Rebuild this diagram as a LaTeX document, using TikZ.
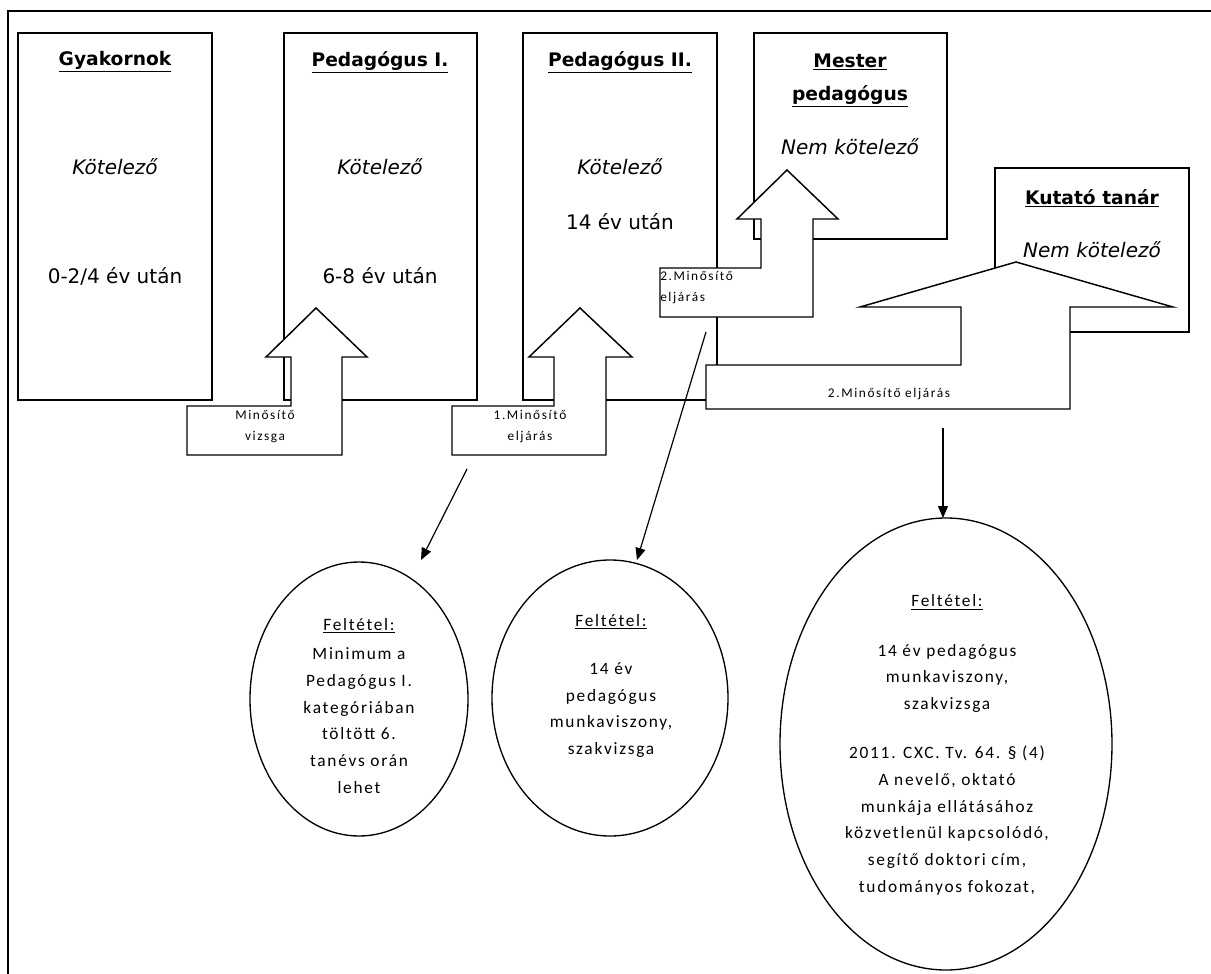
\documentclass[tikz,border=0pt]{standalone}
\usepackage{fontspec}
\setmainfont{DejaVu Sans}
\newfontfamily\calf[LetterSpace=10]{Carlito}
\newfontfamily\calsmall[LetterSpace=12]{Carlito}
\usetikzlibrary{shapes.geometric,arrows.meta}
\begin{document}
\begin{tikzpicture}[x=0.75pt,y=-0.75pt,
  framestyle/.style={line width=1.4pt},
  catbox/.style={draw,line width=1.1pt,inner sep=0pt,outer sep=0pt,anchor=north west},
  blockarrow/.style={draw,fill=white,line width=1.1pt,line join=miter},
  titletext/.style={font=\bfseries\fontsize{14}{17}\selectfont,inner sep=0pt},
  bodytext/.style={font=\fontsize{15}{18}\selectfont,inner sep=0pt},
  ittext/.style={font=\itshape\fontsize{15}{18}\selectfont,inner sep=0pt},
  smalltext/.style={font=\calsmall\fontsize{10}{15.75}\selectfont,inner sep=0pt,align=center},
  smalltextl/.style={font=\calsmall\fontsize{10}{15.75}\selectfont,inner sep=0pt,align=left},
  elltext/.style={font=\calf\fontsize{13}{20}\selectfont,inner sep=0pt,align=center},
  condell/.style={draw,ellipse,line width=1pt,inner sep=0pt},
  conn/.style={line width=0.9pt,-{Triangle[length=9pt,width=7.5pt]}}
]
\useasboundingbox (0,0) rectangle (1211,974);
% outer frame
\draw[framestyle] (8,974) -- (8,11) -- (1211,11);

% category boxes
\node[catbox,minimum width=145.5pt,minimum height=275.25pt] (gyak) at (18,33) {};
\node[catbox,minimum width=144.75pt,minimum height=275.25pt] (ped1) at (284,33) {};
\node[catbox,minimum width=145.5pt,minimum height=275.25pt] (ped2) at (523,33) {};
\node[catbox,minimum width=144.75pt,minimum height=154.5pt] (mester) at (754,33) {};
\node[catbox,minimum width=145.5pt,minimum height=123pt] (kutato) at (995,168) {};

% block arrows
\draw[blockarrow] (187,406) -- (291,406) -- (291,357) -- (266,357) -- (316,308)
  -- (367,357) -- (342,357) -- (342,455) -- (187,455) -- cycle;
\draw[blockarrow] (452,406) -- (554,406) -- (554,357) -- (529,357) -- (580,308)
  -- (632,357) -- (606,357) -- (606,455) -- (452,455) -- cycle;
\draw[blockarrow] (660,268) -- (761,268) -- (761,219) -- (737,219) -- (787,170)
  -- (838,219) -- (813,219) -- (813,317) -- (660,317) -- cycle;
\draw[blockarrow] (706,365) -- (961,365) -- (961,307) -- (860,307) -- (1016,262)
  -- (1173,307) -- (1070,307) -- (1070,409) -- (706,409) -- cycle;

% box texts
\node[titletext] (t1) at (115,62) {\underline{Gyakornok}};
\node[ittext] (k1) at (115,167) {Kötelező};
\node[bodytext] (y1) at (115,276) {0-2/4 év után};

\node[titletext] (t2) at (380,62) {\underline{Pedagógus I.}};
\node[ittext] (k2) at (380,167) {Kötelező};
\node[bodytext] (y2) at (380,276) {6-8 év után};

\node[titletext] (t3) at (620,62) {\underline{Pedagógus II.}};
\node[ittext] (k3) at (620,167) {Kötelező};
\node[bodytext] (y3) at (620,222) {14 év után};

\node[titletext] (t4a) at (850,62) {\underline{Mester}};
\node[titletext] (t4b) at (850,96) {\underline{pedagógus}};
\node[ittext] (k4) at (850,147) {Nem kötelező};

\node[titletext] (t5) at (1092,198) {\underline{Kutató tanár}};
\node[ittext] (k5) at (1092,250) {Nem kötelező};

% block arrow labels
\node[smalltext] (l1) at (265,427) {Minősítő\\vizsga};
\node[smalltext] (l2) at (530,427) {1.Minősítő\\eljárás};
\node[smalltextl,anchor=west] (l3) at (660,288) {2.Minősítő\\eljárás};
\node[smalltext] (l4) at (889,394) {2.Minősítő eljárás};

% condition ellipses
\node[condell,minimum width=163.5pt,minimum height=205.5pt] (e1) at (359,699) {};
\node[condell,minimum width=177pt,minimum height=207pt] (e2) at (610,698) {};
\node[condell,minimum width=249pt,minimum height=339pt] (e3) at (946,744) {};

\node[elltext] (e1t) at (359,706) {\underline{Feltétel:}\\[2pt]Minimum a\\Pedagógus I.\\kategóriában\\töltött 6.\\tanévs orán\\lehet};
\node[elltext] (e2t) at (611,686) {\underline{Feltétel:}\\[16pt]14 év\\pedagógus\\munkaviszony,\\szakvizsga};
\node[elltext] (e3t) at (947,745) {\underline{Feltétel:}\\[17pt]14 év pedagógus\\munkaviszony,\\szakvizsga\\[17pt]2011. CXC. Tv. 64. § (4)\\A nevelő, oktató\\munkája ellátásához\\közvetlenül kapcsolódó,\\segítő doktori cím,\\tudományos fokozat,};

% connectors
\coordinate (c1s) at (467,469);
\coordinate (c1e) at (421,560);
\coordinate (c2s) at (706,332);
\coordinate (c2e) at (637,560);
\coordinate (c3s) at (943,428);
\coordinate (c3e) at (943,518);
\draw[conn] (c1s) -- (c1e);
\draw[conn] (c2s) -- (c2e);
\draw[conn] (c3s) -- (c3e);
\end{tikzpicture}
\end{document}
